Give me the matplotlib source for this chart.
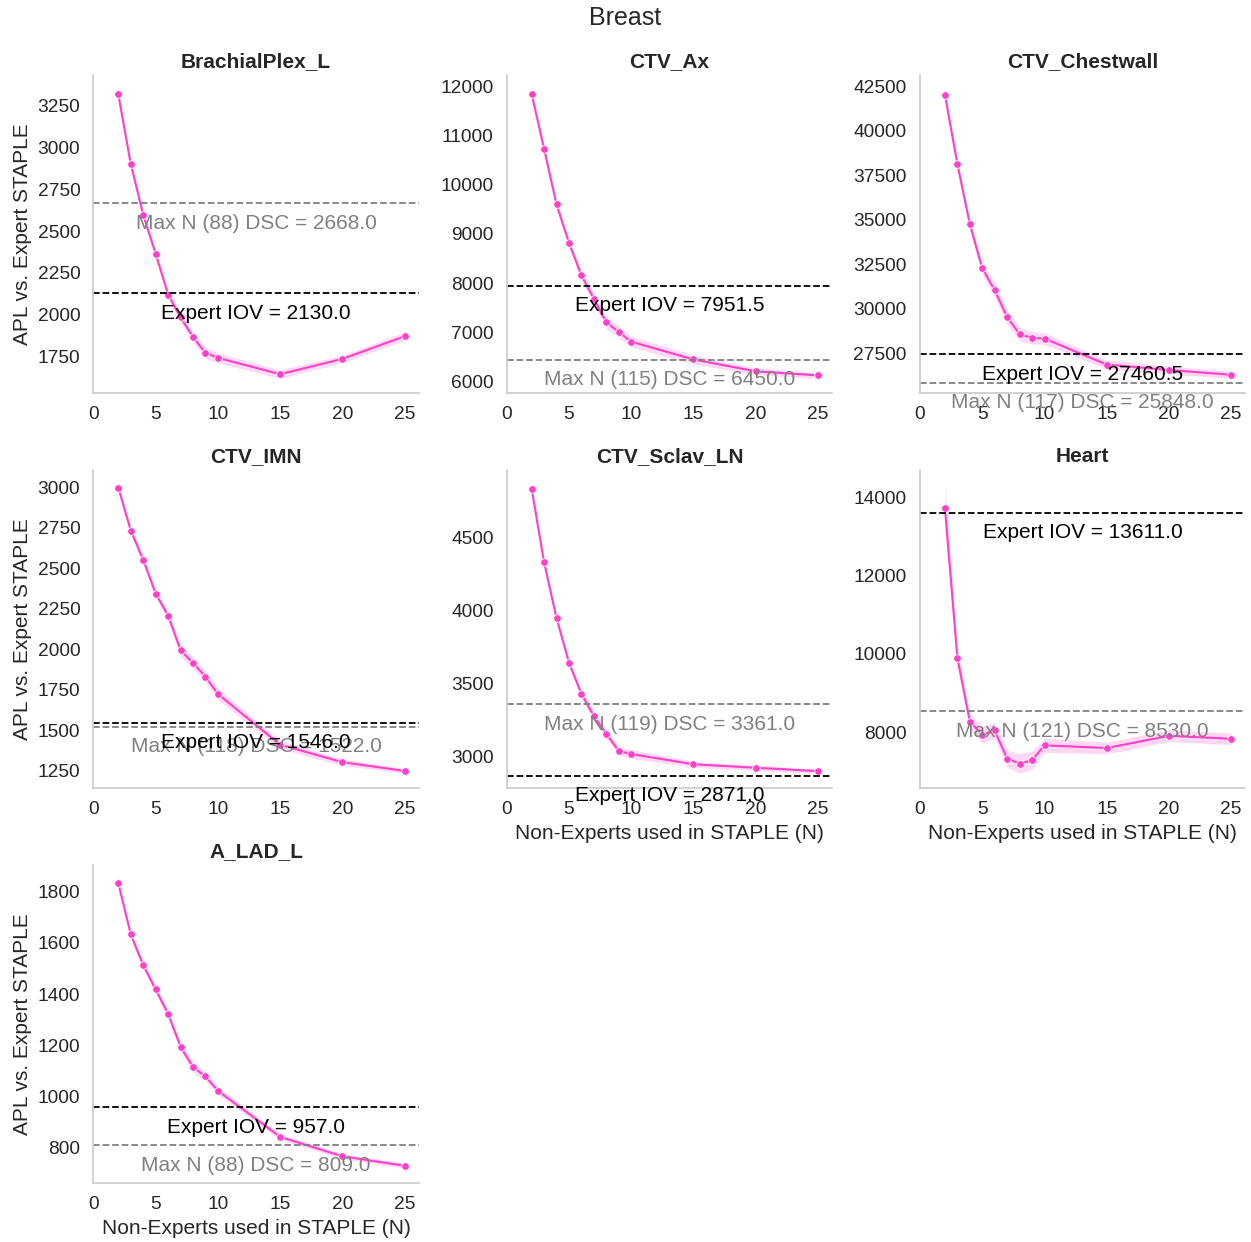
import numpy as np
import matplotlib
matplotlib.use("Agg")
import matplotlib.pyplot as plt
from matplotlib.ticker import MultipleLocator
import seaborn as sns

# Dados
n_experts = [2, 3, 4, 5, 6, 7, 8, 9, 10, 15, 20, 25]

estruturas = ["BrachialPlex_L", "CTV_Ax", "CTV_Chestwall", "CTV_IMN",
              "CTV_Sclav_LN", "Heart", "A_LAD_L"]

apl_brachial = [3315, 2900, 2596, 2364, 2121, 1985, 1868, 1773, 1743, 1646, 1737, 1872]
apl_ax = [11842, 10727, 9598, 8818, 8161, 7682, 7203, 7011, 6812, 6451, 6211, 6128]
apl_chestwall = [42026, 38125, 34760, 32272, 31054, 29534, 28582, 28373, 28335, 26871, 26568, 26300]
apl_imn = [2998, 2733, 2552, 2344, 2208, 1994, 1915, 1831, 1723, 1410, 1302, 1248]
apl_sclav = [4833, 4330, 3949, 3644, 3430, 3279, 3158, 3040, 3019, 2949, 2925, 2902]
apl_heart = [13730, 9898, 8270, 7932, 8042, 7323, 7197, 7282, 7662, 7594, 7906, 7830]
apl_lad = [1833, 1633, 1513, 1418, 1323, 1194, 1115, 1078, 1022, 842, 766, 729]

# meia largura do intervalo de confianca
ci_brachial = [30, 25, 25, 25, 25, 28, 30, 32, 30, 25, 22, 25]
ci_ax = [90, 80, 80, 80, 90, 110, 120, 120, 110, 90, 70, 60]
ci_chestwall = [300, 250, 300, 350, 400, 400, 380, 350, 320, 250, 220, 200]
ci_imn = [20, 25, 25, 25, 30, 35, 35, 35, 35, 25, 20, 15]
ci_sclav = [30, 25, 25, 25, 30, 35, 35, 30, 30, 20, 18, 15]
ci_heart = [600, 250, 200, 220, 200, 220, 250, 230, 180, 150, 150, 150]
ci_lad = [15, 15, 15, 15, 15, 18, 20, 18, 15, 12, 10, 10]

expert_iov = [2130.0, 7951.5, 27460.5, 1546.0, 2871.0, 13611.0, 957.0]
max_n = [88, 115, 117, 118, 119, 121, 88]
max_n_dsc = [2668.0, 6450.0, 25848.0, 1522.0, 3361.0, 8530.0, 809.0]

valores = [apl_brachial, apl_ax, apl_chestwall, apl_imn, apl_sclav, apl_heart, apl_lad]
intervalos = [ci_brachial, ci_ax, ci_chestwall, ci_imn, ci_sclav, ci_heart, ci_lad]

sns.set_theme(style="white", context="notebook", font_scale=1.25)
plt.rcParams["font.family"] = ["Liberation Sans", "DejaVu Sans"]
plt.rcParams["axes.edgecolor"] = ".8"

cor = "#FF40C8"

fig, axes = plt.subplots(3, 3, figsize=(12.51, 12.42), dpi=100)
fig.subplots_adjust(left=0.0747, right=0.9956, top=0.9396, bottom=0.0477,
                    wspace=0.27, hspace=0.243)

x = np.array(n_experts)
for i, nome in enumerate(estruturas):
    ax = axes.flat[i]
    y = np.array(valores[i])
    ci = np.array(intervalos[i])
    ax.fill_between(x, y - ci, y + ci, color=cor, alpha=0.2, linewidth=0)
    ax.plot(x, y, color=cor, linewidth=1.5, marker="o", markersize=5.5,
            markeredgecolor="white", markeredgewidth=0.6)
    ax.axhline(max_n_dsc[i], color="gray", linestyle="--", linewidth=1.3)
    ax.axhline(expert_iov[i], color="black", linestyle="--", linewidth=1.3)
    ax.set_xlim(left=0)
    ax.xaxis.set_major_locator(MultipleLocator(5))
    xm = np.mean(ax.get_xlim())
    ax.annotate(f"Max N ({max_n[i]}) DSC = {max_n_dsc[i]}", (xm, max_n_dsc[i]),
                xytext=(0, -14.5), textcoords="offset points",
                ha="center", va="center", color="gray", fontsize=15)
    ax.annotate(f"Expert IOV = {expert_iov[i]}", (xm, expert_iov[i]),
                xytext=(0, -14.5), textcoords="offset points",
                ha="center", va="center", color="black", fontsize=15)
    ax.set_title(nome, fontweight="bold", fontsize=15)
    if i % 3 == 0:
        ax.set_ylabel("APL vs. Expert STAPLE")
    if i >= 4:
        ax.set_xlabel("Non-Experts used in STAPLE (N)")
    sns.despine(ax=ax)

axes.flat[7].axis("off")
axes.flat[8].axis("off")

fig.suptitle("Breast", fontsize=18, y=0.995)
fig.savefig("out.png", dpi=100)
